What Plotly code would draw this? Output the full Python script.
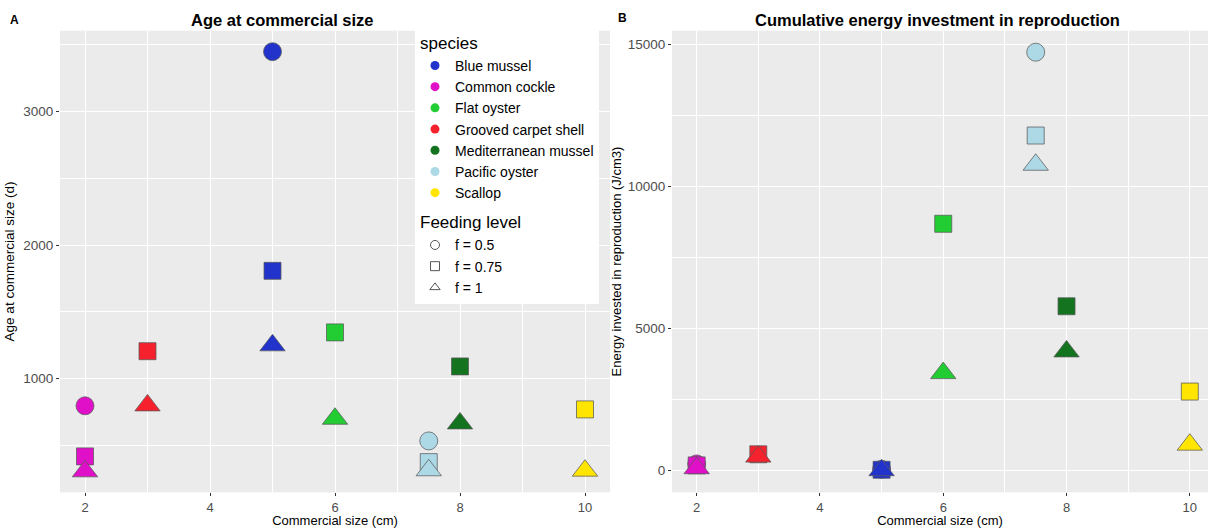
import plotly.graph_objects as go

# ---------------- data ----------------
species = ["Blue mussel", "Common cockle", "Flat oyster", "Grooved carpet shell",
           "Mediterranean mussel", "Pacific oyster", "Scallop"]
species_colors = ["#2233CC", "#E00FC8", "#22CC33", "#F5222D", "#13731F", "#ADD8E6", "#FFE500"]
commercial_size_cm = [5, 2, 6, 3, 8, 7.5, 10]

feeding_levels = ["f = 0.5", "f = 0.75", "f = 1"]
feeding_symbols = ["circle", "square", "triangle-up"]
feeding_sizes = [18, 17, 22]

# Age at commercial size (d)
age_f05 = [3450, 797, None, None, None, 534, None]
age_f075 = [1808, 418, 1347, 1206, 1092, 375, 770]
age_f1 = [1250, 306, 700, 800, 665, 314, 311]

# Cumulative energy invested in reproduction (J/cm3)
energy_f05 = [40, 233, None, None, None, 14735, None]
energy_f075 = [25, 180, 8690, 570, 5785, 11800, 2780]
energy_f1 = [10, 80, 3430, 490, 4195, 10770, 910]

x_ticks = [2, 4, 6, 8, 10]
x_minor = [3, 5, 7, 9]
age_ticks = [1000, 2000, 3000]
age_minor = [500, 1500, 2500, 3500]
energy_ticks = [0, 5000, 10000, 15000]
energy_minor = [2500, 7500, 12500]

# ---------------- figure ----------------
W, H = 1208, 528
FONT = "Liberation Sans, Arial, sans-serif"
fig = go.Figure()

panels = [
    ("x", "y", [age_f05, age_f075, age_f1]),
    ("x2", "y2", [energy_f05, energy_f075, energy_f1]),
]
for xa, ya, series in panels:
    for lvl, vals in enumerate(series):
        xs, ys, cs = [], [], []
        for i, v in enumerate(vals):
            if v is not None:
                xs.append(commercial_size_cm[i])
                ys.append(v)
                cs.append(species_colors[i])
        fig.add_trace(go.Scatter(
            x=xs, y=ys, mode="markers", xaxis=xa, yaxis=ya, showlegend=False,
            hoverinfo="skip",
            marker=dict(symbol=feeding_symbols[lvl], size=feeding_sizes[lvl], color=cs,
                        line=dict(color="rgba(90,90,90,0.75)", width=1)),
        ))

# legend entries: species
for i, sp in enumerate(species):
    fig.add_trace(go.Scatter(
        x=[None], y=[None], mode="markers", name=sp, legendgroup="species",
        legendgrouptitle=dict(text="species", font=dict(size=17, color="black")) if i == 0 else None,
        marker=dict(symbol="circle", size=9, color=species_colors[i], line=dict(width=0)),
    ))
# legend entries: feeding level
for j, lv in enumerate(feeding_levels):
    fig.add_trace(go.Scatter(
        x=[None], y=[None], mode="markers", name=lv, legendgroup="feeding",
        legendgrouptitle=dict(text="Feeding level", font=dict(size=17, color="black")) if j == 0 else None,
        marker=dict(symbol=feeding_symbols[j] + "-open", size=9, color="#555555", line=dict(width=1)),
    ))

y_dom = [1 - 497 / H, 1 - 31 / H]
axis_common = dict(
    showgrid=True, gridcolor="white", gridwidth=1.2, zeroline=False, showline=False,
    ticks="outside", ticklen=3, tickwidth=1, tickcolor="#333333", tickformat="d",
)
xtick_font = dict(size=13, color="#4D4D4D", family=FONT)
ytick_font = dict(size=13.5, color="#4D4D4D", family=FONT)

fig.update_layout(
    width=W, height=H,
    margin=dict(l=0, r=0, t=0, b=0),
    paper_bgcolor="white", plot_bgcolor="#EBEBEB",
    font=dict(family=FONT, color="black"),
    xaxis=dict(domain=[60 / W, 610 / W], range=[1.6, 10.4], tickvals=x_ticks, anchor="y",
               tickfont=xtick_font,
               minor=dict(tickvals=x_minor, showgrid=True, gridcolor="white", gridwidth=0.6),
               title=dict(text="Commercial size (cm)", font=dict(size=13), standoff=4), **axis_common),
    yaxis=dict(domain=y_dom, range=[149, 3607], tickvals=age_ticks, anchor="x",
               tickfont=ytick_font,
               minor=dict(tickvals=age_minor, showgrid=True, gridcolor="white", gridwidth=0.6),
               title=dict(text="Age at commercial size (d)", font=dict(size=13.5), standoff=5), **axis_common),
    xaxis2=dict(domain=[672 / W, 1.0], range=[1.6, 10.295], tickvals=x_ticks, anchor="y2",
                tickfont=xtick_font,
                minor=dict(tickvals=x_minor, showgrid=True, gridcolor="white", gridwidth=0.6),
                title=dict(text="Commercial size (cm)", font=dict(size=13), standoff=4), **axis_common),
    yaxis2=dict(domain=y_dom, range=[-768, 15492], tickvals=energy_ticks, anchor="x2",
                tickfont=ytick_font,
                minor=dict(tickvals=energy_minor, showgrid=True, gridcolor="white", gridwidth=0.6),
                title=dict(text="Energy invested in reproduction (J/cm3)", font=dict(size=13), standoff=3),
                **axis_common),
    legend=dict(
        x=415 / W, y=1 - 25 / H, xanchor="left", yanchor="top",
        bgcolor="white", borderwidth=0,
        font=dict(size=14, color="black", family=FONT),
        traceorder="grouped", tracegroupgap=6, itemsizing="trace",
    ),
    annotations=[
        dict(text="<b>Age at commercial size</b>", x=282 / W, y=1 - 20 / H, xref="paper", yref="paper",
             showarrow=False, font=dict(size=16.5), xanchor="center", yanchor="middle"),
        dict(text="<b>Cumulative energy investment in reproduction</b>", x=937 / W, y=1 - 20 / H,
             xref="paper", yref="paper", showarrow=False, font=dict(size=16.5),
             xanchor="center", yanchor="middle"),
        dict(text="<b>A</b>", x=14 / W, y=1 - 20 / H, xref="paper", yref="paper", showarrow=False,
             font=dict(size=12), xanchor="center", yanchor="middle"),
        dict(text="<b>B</b>", x=622 / W, y=1 - 18 / H, xref="paper", yref="paper", showarrow=False,
             font=dict(size=12), xanchor="center", yanchor="middle"),
    ],
)

fig.write_html("out.html")
